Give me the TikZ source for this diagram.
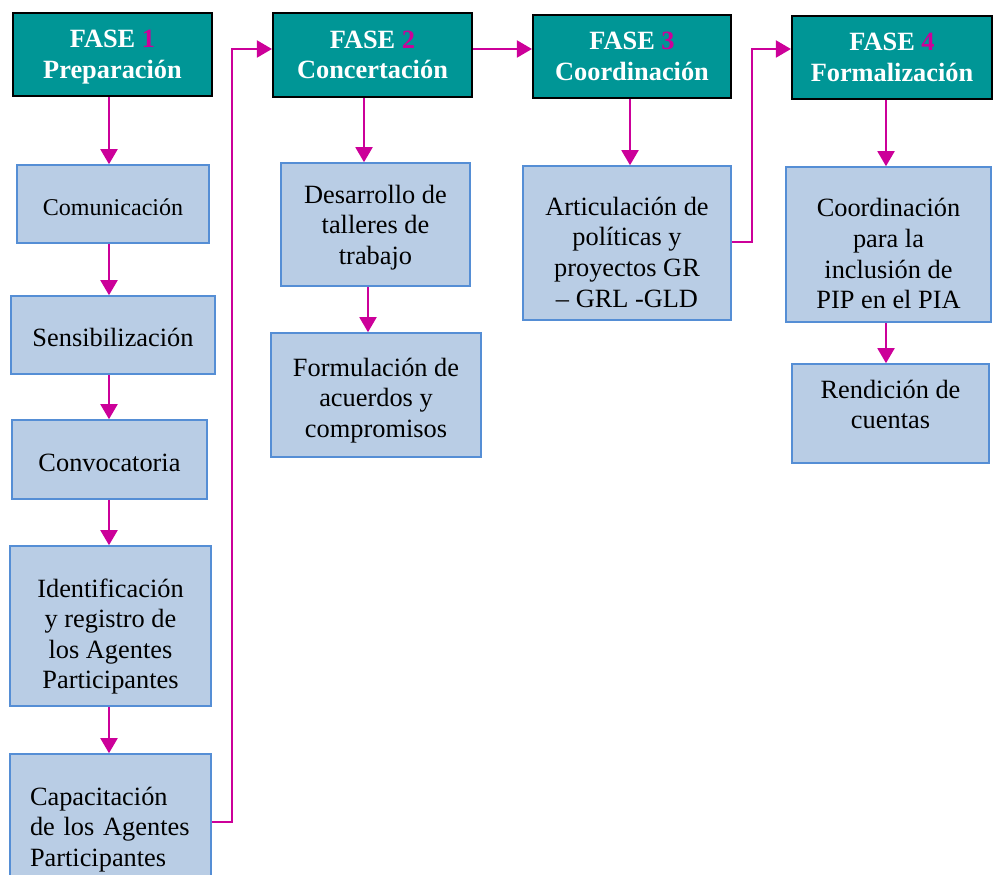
\documentclass[tikz,border=0pt]{standalone}
\usepackage{fontspec}
\setmainfont{Liberation Serif}
\usetikzlibrary{arrows.meta}
\definecolor{verdefase}{RGB}{0,150,150}
\definecolor{azulcaja}{RGB}{185,205,229}
\definecolor{bordecaja}{RGB}{85,142,213}
\definecolor{magentaflecha}{RGB}{204,0,153}
\tikzset{
  fase/.style={draw=black, line width=1.2pt, fill=verdefase, text=white, font=\fontsize{15}{17.4}\selectfont\bfseries, align=center, inner sep=0pt},
  caja/.style={draw=bordecaja, line width=0.9pt, fill=azulcaja, font=\fontsize{15}{17.4}\selectfont, align=center, inner sep=0pt},
  flecha/.style={draw=magentaflecha, line width=1.1pt, -{Triangle[width=0.34cm,length=0.3cm]}}
}
\newcommand{\num}[1]{\textcolor{magentaflecha}{#1}}
\newcommand{\alto}[1]{\rule{0pt}{#1pt}}
\newcommand{\hondo}[1]{\rule[-#1pt]{0pt}{0pt}}

\begin{document}
\begin{tikzpicture}
    \useasboundingbox (0,0) rectangle (19.94,-17.5);
    \node [fase, minimum width=3.98cm, minimum height=1.66cm] (f1) at (2.25,-1.09) {FASE \num{1}\\\smash{Preparación}};
    \node [fase, minimum width=3.98cm, minimum height=1.68cm] (f2) at (7.45,-1.10) {FASE \num{2}\\Concertación};
    \node [fase, minimum width=3.96cm, minimum height=1.66cm] (f3) at (12.64,-1.13) {FASE \num{3}\\Coordinación};
    \node [fase, minimum width=4.00cm, minimum height=1.66cm] (f4) at (17.84,-1.15) {FASE \num{4}\\Formalización};
    \node [caja, minimum width=3.84cm, minimum height=1.56cm, font=\fontsize{13.7}{16}\selectfont] (com) at (2.26,-4.08) {\alto{12.7}Comunicación};
    \node [caja, minimum width=4.08cm, minimum height=1.56cm] (sen) at (2.26,-6.70) {\alto{13.7}Sensibilización};
    \node [caja, minimum width=3.90cm, minimum height=1.58cm] (con) at (2.19,-9.19) {\alto{13.7}Convocatoria};
    \node [caja, minimum width=4.02cm, minimum height=3.20cm] (ide) at (2.21,-12.52) {\alto{22.5}Identificación\\y registro de\\los Agentes\\Participantes};
    \node [caja, minimum height=2.92cm, align=left, text width=3.22cm, inner xsep=0.4cm] (cap) at (2.21,-16.54) {\alto{13}Capacitación\\de los Agentes\\Participantes};
    \node [caja, minimum width=3.78cm, minimum height=2.46cm] (des) at (7.51,-4.49) {\alto{13.6}Desarrollo de\\talleres de\\trabajo};
    \node [caja, minimum width=4.20cm, minimum height=2.48cm] (for) at (7.52,-7.90) {\alto{16.4}Formulación de\\acuerdos y\\compromisos};
    \node [caja, minimum width=4.16cm, minimum height=3.08cm] (art) at (12.54,-4.86) {\alto{20.9}Articulación de\\políticas y\\proyectos GR\\– GRL -GLD};
    \node [caja, minimum width=4.10cm, minimum height=3.10cm] (coo) at (17.77,-4.89) {\alto{20.9}Coordinación\\para la\\inclusión de\\PIP en el PIA};
    \node [caja, minimum width=3.94cm, minimum height=1.98cm] (ren) at (17.81,-8.27) {Rendición de\\cuentas\hondo{10.5}};
    \coordinate (ejeA) at (2.18,0);
    \coordinate (ejeB) at (7.28,0);
    \coordinate (ejeB2) at (7.36,0);
    \coordinate (ejeC) at (12.6,0);
    \coordinate (ejeD) at (17.72,0);
    \coordinate (ejeH) at (0,-0.98);
    \coordinate (vuelta1) at (4.64,-16.44);
    \coordinate (vuelta2) at (15.04,-4.84);
    \draw [flecha] (ejeA |- f1.south) -- (ejeA |- com.north);
    \draw [flecha] (ejeA |- com.south) -- (ejeA |- sen.north);
    \draw [flecha] (ejeA |- sen.south) -- (ejeA |- con.north);
    \draw [flecha] (ejeA |- con.south) -- (ejeA |- ide.north);
    \draw [flecha] (ejeA |- ide.south) -- (ejeA |- cap.north);
    \draw [flecha] (cap.east |- vuelta1) -- (vuelta1) |- (f2.west |- ejeH);
    \draw [flecha] (ejeB |- f2.south) -- (ejeB |- des.north);
    \draw [flecha] (ejeB2 |- des.south) -- (ejeB2 |- for.north);
    \draw [flecha] (f2.east |- ejeH) -- (f3.west |- ejeH);
    \draw [flecha] (ejeC |- f3.south) -- (ejeC |- art.north);
    \draw [flecha] (art.east |- vuelta2) -- (vuelta2) |- (f4.west |- ejeH);
    \draw [flecha] (ejeD |- f4.south) -- (ejeD |- coo.north);
    \draw [flecha] (ejeD |- coo.south) -- (ejeD |- ren.north);
\end{tikzpicture}
\end{document}
